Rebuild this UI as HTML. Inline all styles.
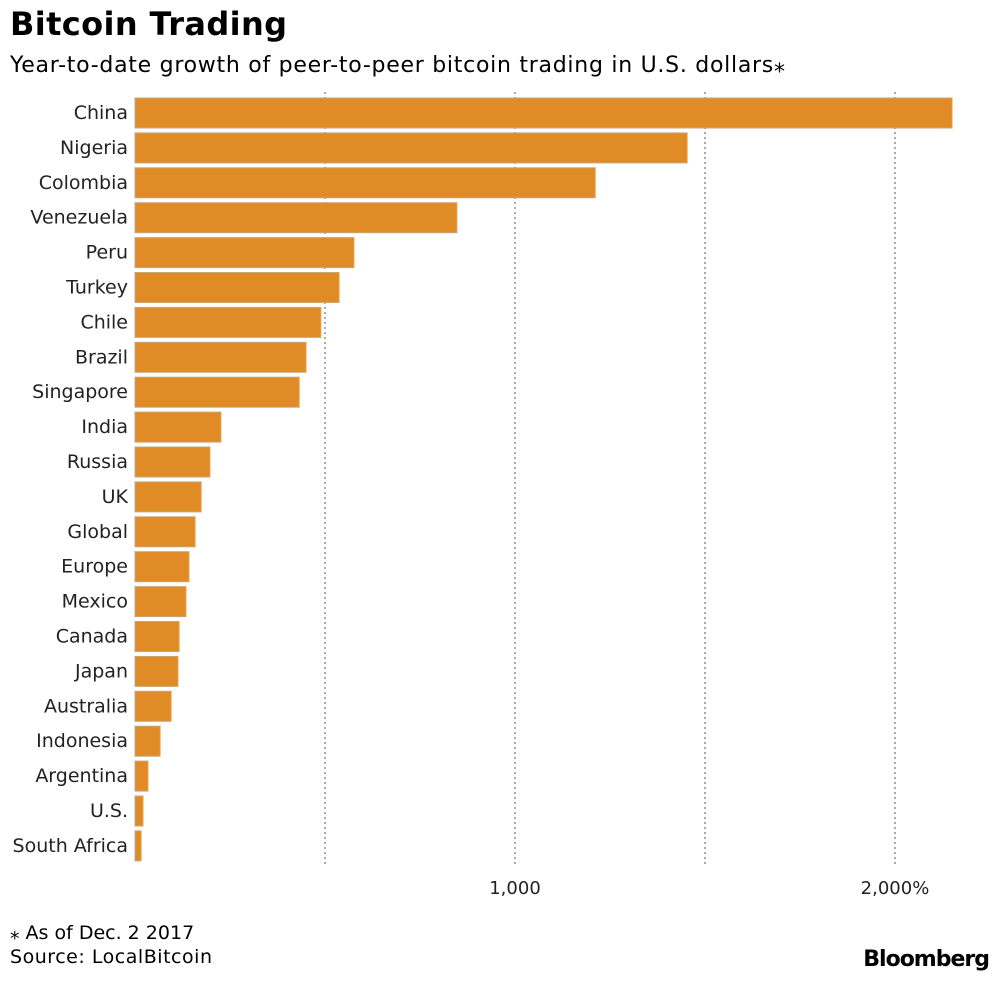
<!DOCTYPE html>
<html><head><meta charset="utf-8"><style>
body{margin:0;background:#fff;width:999px;height:978px;overflow:hidden;font-family:"DejaVu Sans","Liberation Sans",sans-serif;}
</style></head><body>
<svg width="999" height="978">
<text x="10" y="35" font-size="32" font-weight="bold" fill="#000" textLength="277">Bitcoin Trading</text>
<text x="10" y="72" font-size="22" fill="#000" textLength="775">Year-to-date growth of peer-to-peer bitcoin trading in U.S. dollars⁎</text>
<g id="grid"></g><g id="bars"></g><g id="labels"></g><g id="ticks"></g>
<text x="10" y="939" font-size="19" fill="#000">⁎ As of Dec. 2 2017</text>
<text x="10" y="963" font-size="19" fill="#000" textLength="202">Source: LocalBitcoin</text>
<text x="989" y="966" font-size="22" font-weight="bold" text-anchor="end" fill="#000" letter-spacing="-1">Bloomberg</text>
</svg>
<script>
const categories=["China","Nigeria","Colombia","Venezuela","Peru","Turkey","Chile","Brazil","Singapore","India","Russia","UK","Global","Europe","Mexico","Canada","Japan","Australia","Indonesia","Argentina","U.S.","South Africa"];
const values=[2150,1453,1211,847,576,537,489,450,432,226,197,174,158,142,134,116,113,95,66,34,21,16];
const gridValues=[500,1000,1500,2000];
const tickValues=[1000,2000];
const tickLabels=["1,000","2,000%"];
const NS="http://www.w3.org/2000/svg";
const x=v=>135+v*0.38;
const y=i=>98+i*34.9;
function mk(t,a,p){const e=document.createElementNS(NS,t);for(const k in a)e.setAttribute(k,a[k]);p.appendChild(e);return e;}
const grid=document.getElementById('grid'),bars=document.getElementById('bars'),labels=document.getElementById('labels'),ticks=document.getElementById('ticks');
gridValues.forEach(v=>{const l=mk('line',{x1:x(v),x2:x(v),y1:92,y2:864,stroke:'#aaa','stroke-width':2,'stroke-dasharray':'2,3'},grid);

});
categories.forEach((c,i)=>{
const r=mk('rect',{x:135,y:y(i),width:x(values[i])-135,height:30,fill:'#e08b26',stroke:'#c9a57a','stroke-width':1},bars);


const t=mk('text',{x:128,y:y(i)+21,'font-size':19,'text-anchor':'end',fill:'#222'},labels);t.textContent=c;

});
tickValues.forEach((v,i)=>{const t=mk('text',{x:x(v),y:894,'font-size':18,'text-anchor':'middle',fill:'#222'},ticks);t.textContent=tickLabels[i];

});
</script>
</body></html>
